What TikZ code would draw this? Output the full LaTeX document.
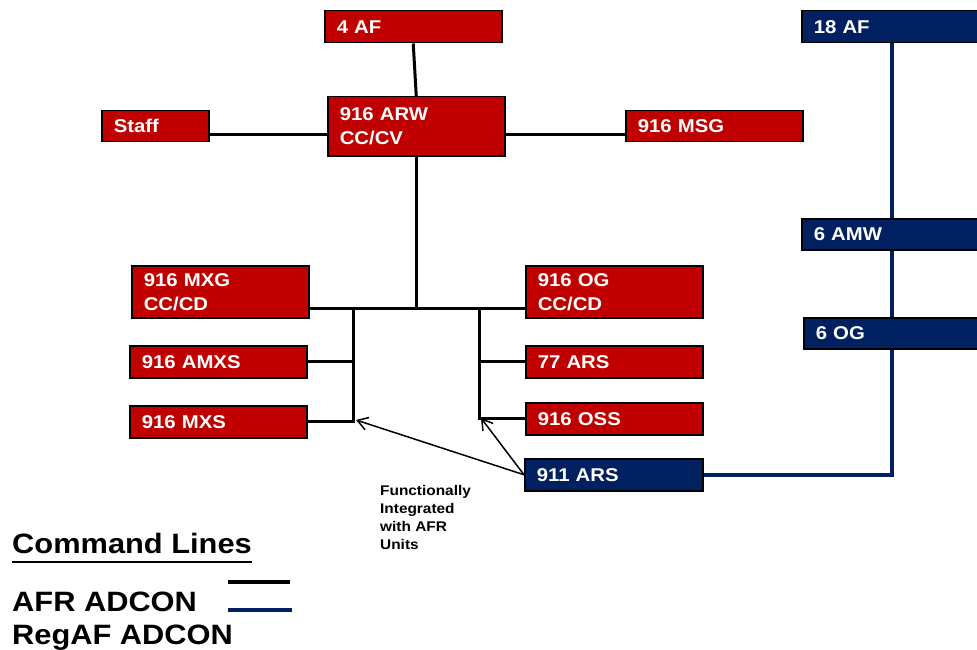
\documentclass[tikz,border=0pt]{standalone}
\usepackage{fontspec}
\setmainfont{Liberation Sans}[FakeStretch=1.1]
\usetikzlibrary{arrows.meta}
\definecolor{afrred}{RGB}{192,0,0}
\definecolor{regnavy}{RGB}{0,32,96}
\begin{document}
\begin{tikzpicture}[x=1pt,y=-1pt,
  unit/.style={draw=black, line width=1.5pt, anchor=north west, inner xsep=12pt, inner ysep=0pt,
    text=white, align=left, font=\bfseries\fontsize{18.5}{24}\selectfont},
  afr/.style={unit, fill=afrred},
  reg/.style={unit, fill=regnavy},
  std/.style={minimum width=177pt, text width=153pt},
  hs/.style={minimum height=32pt},
  ht/.style={minimum height=52pt},
  cmdline/.style={line width=3pt, black},
  regline/.style={line width=4pt, regnavy},
  note/.style={-{Straight Barb[angle=64:12pt]}, line width=1.5pt, black},
  legend/.style={anchor=base west, inner sep=0pt, font=\bfseries\fontsize{28}{32}\selectfont},
  small/.style={anchor=north west, inner sep=0pt, align=left, font=\bfseries\fontsize{14}{17.8}\selectfont}
]
\path[use as bounding box, clip] (0,0) rectangle (977,650);
\fill[white] (0,0) rectangle (977,650);

% units
\node[afr, std, hs] (af4) at (324,10) {4 AF};
\node[afr, std, minimum height=59pt] (arw) at (327,96) {916 ARW\\CC/CV};
\node[afr, minimum width=107pt, text width=83pt, minimum height=31pt] (staff) at (101,110) {Staff};
\node[afr, std, minimum height=31pt] (msg) at (625,110) {916 MSG};
\node[reg, minimum width=250pt, text width=226pt, hs] (af18) at (801,10) {18 AF};
\node[reg, minimum width=250pt, text width=226pt, minimum height=31pt] (amw6) at (801,218) {6 AMW};
\node[reg, minimum width=250pt, text width=226pt, minimum height=31pt] (og6) at (803,317) {6 OG};
\node[afr, std, ht] (mxg) at (131,265) {916 MXG\\CC/CD};
\node[afr, std, hs] (amxs) at (129,345) {916 AMXS};
\node[afr, std, hs] (mxs) at (129,405) {916 MXS};
\node[afr, std, ht] (og) at (525,265) {916 OG\\CC/CD};
\node[afr, std, hs] (ars77) at (525,345) {77 ARS};
\node[afr, std, hs] (oss) at (525,402) {916 OSS};
\node[reg, minimum width=178pt, text width=154pt, hs] (ars911) at (524,458) {911 ARS};

% helper coordinates
\coordinate (hy) at (0,135);
\coordinate (bary) at (0,308);
\coordinate (lx) at (353,0);
\coordinate (rx) at (479,0);
\coordinate (bx) at (892,0);
\coordinate (t1) at (356,420);
\coordinate (t2) at (481,418);

% AFR command lines
\draw[cmdline] (af4.south) -- (arw.north);
\draw[cmdline] (staff.east |- hy) -- (arw.west |- hy);
\draw[cmdline] (arw.east |- hy) -- (msg.west |- hy);
\draw[cmdline] (arw.south) -- (arw.south |- bary);
\draw[cmdline] (mxg.east |- bary) -- (og.west |- bary);
\draw[cmdline] (lx |- bary) -- (lx |- mxs.east) -- (mxs.east);
\draw[cmdline] (amxs.east) -- (lx |- amxs.east);
\draw[cmdline] (rx |- bary) -- (rx |- oss.west) -- (oss.west);
\draw[cmdline] (ars77.west) -- (rx |- ars77.west);

% RegAF lines
\draw[regline] (bx |- af18.south) -- (bx |- amw6.north);
\draw[regline] (bx |- amw6.south) -- (bx |- og6.north);
\draw[regline] (bx |- og6.south) -- (bx |- ars911.east) -- (ars911.east);

% functional integration arrows
\draw[note] (ars911.west) -- (t1);
\draw[note] (ars911.west) -- (t2);
\node[small] (fn) at (380,485.5) {Functionally\\Integrated\\with AFR\\Units};

% legend
\node[legend] (cl) at (12,553) {Command Lines};
\draw[line width=2pt] ([yshift=-9pt]cl.base west) -- ([yshift=-9pt]cl.base east);
\node[legend] (afrl) at (12,611) {AFR ADCON};
\node[legend] (regl) at (12,644) {RegAF ADCON};
\coordinate (lg1a) at (228,582);
\coordinate (lg1b) at (290,582);
\coordinate (lg2a) at (228,610);
\coordinate (lg2b) at (292,610);
\draw[line width=3.5pt, black] (lg1a) -- (lg1b);
\draw[line width=3.5pt, regnavy] (lg2a) -- (lg2b);
\end{tikzpicture}
\end{document}
